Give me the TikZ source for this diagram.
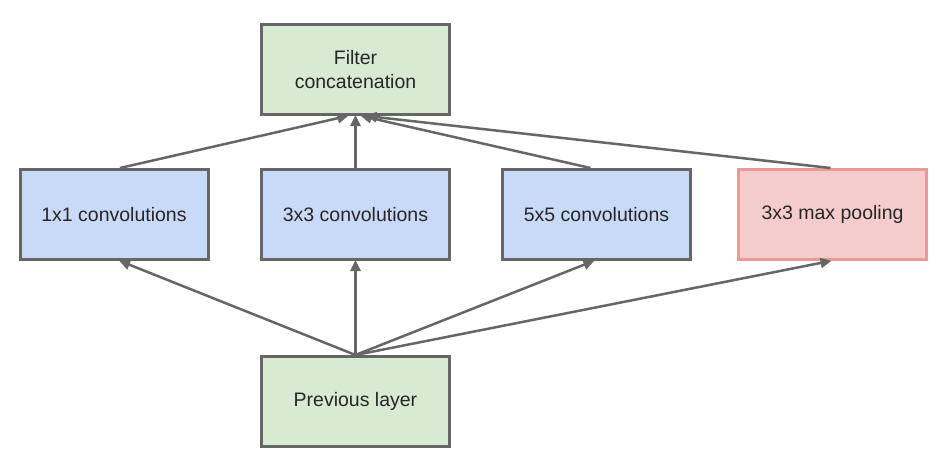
\documentclass[tikz,border=0pt]{standalone}
\usepackage{fontspec}
\setmainfont{Liberation Sans}
\usetikzlibrary{arrows.meta}
\definecolor{bordergray}{HTML}{666666}
\definecolor{greenfill}{HTML}{D9EAD3}
\definecolor{bluefill}{HTML}{C9DAF8}
\definecolor{redfill}{HTML}{F4CCCC}
\definecolor{redborder}{HTML}{EA9999}
\begin{document}
\begin{tikzpicture}[x=1pt,y=-1pt,
  box/.style={draw=bordergray,line width=3pt,minimum width=188pt,minimum height=90pt,inner sep=0pt,align=center,font=\fontsize{19.5}{24}\selectfont,text=black!85},
  greenbox/.style={box,fill=greenfill},
  bluebox/.style={box,fill=bluefill},
  redbox/.style={box,fill=redfill,draw=redborder},
  conn/.style={draw=bordergray,line width=2.5pt,-{Triangle[length=11pt,width=10pt]},shorten >=-1pt}]
\useasboundingbox (0,0) rectangle (940,458);
\node[greenbox] (concat) at (355.5,69.5) {Filter\\concatenation};
\node[bluebox] (c1) at (114,214.5) {1x1 convolutions};
\node[bluebox] (c3) at (355.5,214.5) {3x3 convolutions};
\node[bluebox] (c5) at (596.5,214.5) {5x5 convolutions};
\node[redbox] (mp) at (832.5,214.5) {3x3 max pooling};
\node[greenbox] (prev) at (355.5,401.5) {Previous layer};
\coordinate (pt) at (355.5,355);
\draw[conn] (pt) -- ([xshift=6pt]c1.south);
\draw[conn] (pt) -- (c3.south);
\draw[conn] (pt) -- ([xshift=-3pt]c5.south);
\draw[conn] (pt) -- ([xshift=-2pt]mp.south);
\draw[conn] ([xshift=6pt]c1.north) -- ([xshift=-8pt]concat.south);
\draw[conn] (c3.north) -- (concat.south);
\draw[conn] ([xshift=-6pt]c5.north) -- ([xshift=6pt]concat.south);
\draw[conn] ([xshift=-2pt]mp.north) -- ([xshift=11pt]concat.south);
\end{tikzpicture}
\end{document}
